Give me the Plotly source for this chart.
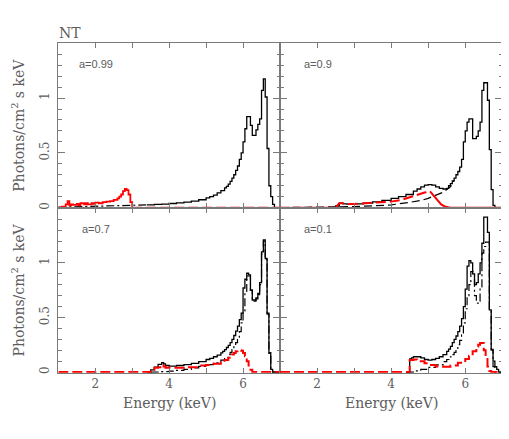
import plotly.graph_objects as go

# ---------------- data (energy in keV, flux in photons/cm^2/s/keV) ----------------
# Panel a=0.99
A_tot_E = [3.4, 3.6, 3.8, 4.0, 4.2, 4.4, 4.6, 4.8, 5.0, 5.1, 5.2, 5.3, 5.4, 5.5, 5.55, 5.6, 5.65, 5.7, 5.75,
           5.8, 5.85, 5.9, 5.95, 6.0, 6.05, 6.1, 6.15, 6.2, 6.25, 6.3, 6.35, 6.4, 6.45, 6.5, 6.55, 6.6, 6.65,
           6.7, 6.75, 6.8, 6.85, 7.0]
A_tot_F = [0.025, 0.029, 0.033, 0.038, 0.044, 0.051, 0.06, 0.072, 0.09, 0.1, 0.115, 0.135, 0.155, 0.18, 0.195,
           0.215, 0.24, 0.27, 0.3, 0.34, 0.38, 0.44, 0.5, 0.6, 0.72, 0.83, 0.83, 0.75, 0.66, 0.66, 0.71, 0.76,
           0.81, 1.07, 1.175, 1.01, 0.54, 0.2, 0.1, 0.03, 0.0, 0.0]
A_cmp_E = [1.0, 1.5, 2.0, 2.5, 3.0, 3.4]
A_cmp_F = [0.004, 0.008, 0.013, 0.018, 0.022, 0.025]
A_red_E = [1.0, 1.1, 1.2, 1.25, 1.3, 1.35, 1.4, 1.5, 1.55, 1.6, 1.7, 1.75, 1.8, 1.9, 1.95, 2.0, 2.1, 2.2, 2.3,
           2.4, 2.5, 2.6, 2.65, 2.7, 2.75, 2.8, 2.85, 2.9, 2.95, 3.0]
A_red_F = [0.0, 0.01, 0.03, 0.06, 0.02, 0.03, 0.025, 0.035, 0.02, 0.04, 0.03, 0.04, 0.03, 0.04, 0.035, 0.045,
           0.04, 0.05, 0.055, 0.06, 0.07, 0.085, 0.1, 0.12, 0.15, 0.17, 0.16, 0.12, 0.05, 0.0]
A_red0_E = [3.0, 7.0]
A_red0_F = [0.0, 0.0]

# Panel a=0.9
B_tot_E = [2.4, 2.5, 2.6, 2.7, 2.8, 3.0, 3.25, 3.5, 3.75, 4.0, 4.2, 4.4, 4.6, 4.7, 4.8, 4.9, 5.0, 5.1, 5.2,
           5.3, 5.4, 5.5, 5.55, 5.6, 5.65, 5.7, 5.75, 5.8, 5.85, 5.9, 5.95, 6.0, 6.05, 6.1, 6.15, 6.2, 6.25,
           6.3, 6.35, 6.4, 6.45, 6.5, 6.55, 6.6, 6.65, 6.7, 6.75, 6.8, 7.0]
B_tot_F = [0.0, 0.015, 0.04, 0.035, 0.033, 0.035, 0.042, 0.052, 0.066, 0.085, 0.1, 0.12, 0.15, 0.17, 0.19,
           0.205, 0.21, 0.205, 0.19, 0.175, 0.17, 0.175, 0.2, 0.22, 0.245, 0.27, 0.3, 0.33, 0.37, 0.44, 0.6,
           0.7, 0.78, 0.81, 0.81, 0.63, 0.63, 0.65, 0.7, 0.78, 1.07, 1.14, 1.14, 0.98, 0.53, 0.165, 0.02,
           0.0, 0.0]
B_cmp_E = [1.0, 2.5, 3.0, 3.5, 4.0, 4.5, 4.8, 5.0, 5.2, 5.4, 5.6, 5.7]
B_cmp_F = [0.0, 0.005, 0.01, 0.016, 0.025, 0.048, 0.065, 0.085, 0.11, 0.14, 0.19, 0.25]
B_red_E = [1.0, 2.5, 2.55, 2.6, 2.7, 2.75, 3.0, 3.5, 4.0, 4.25, 4.5, 4.7, 4.9, 5.05]
B_red_F = [0.0, 0.0, 0.02, 0.04, 0.04, 0.033, 0.034, 0.042, 0.055, 0.068, 0.095, 0.12, 0.138, 0.148]
B_redt_E = [5.05, 5.15, 5.25, 5.35, 5.45, 5.6, 7.0]
B_redt_F = [0.148, 0.11, 0.065, 0.03, 0.01, 0.0, 0.0]

# Panel a=0.7
C_tot_E = [3.4, 3.5, 3.6, 3.7, 3.8, 3.85, 3.9, 4.0, 4.2, 4.4, 4.6, 4.8, 5.0, 5.1, 5.2, 5.3, 5.4, 5.45, 5.5,
           5.55, 5.6, 5.65, 5.7, 5.75, 5.8, 5.85, 5.9, 5.95, 6.0, 6.05, 6.1, 6.15, 6.2, 6.25, 6.3, 6.35, 6.4,
           6.45, 6.5, 6.55, 6.6, 6.65, 6.7, 6.75, 6.8, 7.0]
C_tot_F = [0.0, 0.02, 0.045, 0.07, 0.085, 0.075, 0.06, 0.055, 0.06, 0.068, 0.08, 0.095, 0.115, 0.125, 0.14,
           0.155, 0.175, 0.19, 0.205, 0.225, 0.245, 0.27, 0.3, 0.335, 0.375, 0.42, 0.48, 0.54, 0.77, 0.85,
           0.905, 0.89, 0.75, 0.66, 0.66, 0.68, 0.72, 0.82, 1.1, 1.21, 1.04, 0.54, 0.177, 0.025, 0.0, 0.0]
C_cmp_E = [3.5, 3.8, 4.0, 4.2, 4.4, 4.6, 4.8, 5.0, 5.2, 5.4, 5.5, 5.6, 5.65, 5.7, 5.75, 5.8, 5.85, 5.9, 5.95,
           6.0, 6.05, 6.1, 6.15, 6.2, 6.25, 6.3, 6.35, 6.4, 6.45, 6.5, 6.55, 6.6, 6.65, 6.7, 6.75, 6.8, 7.0]
C_cmp_F = [0.0, 0.004, 0.008, 0.015, 0.025, 0.038, 0.052, 0.068, 0.085, 0.11, 0.13, 0.16, 0.18, 0.205, 0.23,
           0.27, 0.31, 0.37, 0.45, 0.56, 0.74, 0.88, 0.88, 0.75, 0.65, 0.65, 0.67, 0.71, 0.8, 1.08, 1.2, 1.03,
           0.53, 0.17, 0.02, 0.0, 0.0]
C_red_E = [1.0, 3.45, 3.5, 3.6, 3.7, 3.8, 3.85, 3.9, 4.0, 4.4, 4.8, 5.0, 5.2, 5.4, 5.5, 5.6, 5.7, 5.75, 5.8,
           5.85, 5.9, 5.95, 6.0, 6.05, 6.1, 6.15, 6.2, 6.25, 7.0]
C_red_F = [0.0, 0.0, 0.02, 0.04, 0.045, 0.065, 0.05, 0.04, 0.04, 0.045, 0.06, 0.065, 0.075, 0.09, 0.11, 0.13,
           0.16, 0.175, 0.19, 0.2, 0.2, 0.195, 0.175, 0.145, 0.1, 0.06, 0.02, 0.0, 0.0]

# Panel a=0.1
D_tot_E = [4.4, 4.5, 4.55, 4.6, 4.7, 4.8, 4.9, 5.0, 5.1, 5.2, 5.3, 5.4, 5.5, 5.55, 5.6, 5.65, 5.7, 5.75, 5.8,
           5.85, 5.9, 5.95, 6.0, 6.05, 6.1, 6.15, 6.2, 6.25, 6.3, 6.35, 6.4, 6.45, 6.5, 6.55, 6.6, 6.65, 6.7,
           6.75, 6.8, 6.85, 6.9, 7.0]
D_tot_F = [0.0, 0.12, 0.13, 0.14, 0.14, 0.13, 0.115, 0.11, 0.115, 0.125, 0.14, 0.16, 0.19, 0.21, 0.235, 0.27,
           0.3, 0.33, 0.37, 0.42, 0.49, 0.6, 0.76, 0.97, 1.02, 1.0, 0.9, 0.8, 0.82, 0.9, 1.0, 1.18, 1.42, 1.42,
           1.28, 0.57, 0.207, 0.1, 0.05, 0.025, 0.0, 0.0]
D_cmp_E = [4.4, 4.6, 4.8, 5.0, 5.2, 5.4, 5.5, 5.6, 5.65, 5.7, 5.75, 5.8, 5.85, 5.9, 5.95, 6.0, 6.05, 6.1, 6.15,
           6.2, 6.25, 6.3, 6.35, 6.4, 6.45, 6.5, 6.55, 6.6, 6.65, 6.7, 6.75, 6.8, 7.0]
D_cmp_F = [0.0, 0.01, 0.025, 0.042, 0.065, 0.095, 0.115, 0.14, 0.16, 0.18, 0.21, 0.25, 0.29, 0.34, 0.45, 0.58,
           0.7, 0.8, 0.92, 0.92, 0.7, 0.63, 0.65, 0.78, 1.09, 1.15, 1.19, 1.19, 0.57, 0.2, 0.05, 0.0, 0.0]
D_red_E = [1.0, 4.5, 4.6, 4.7, 4.8, 4.9, 5.0, 5.2, 5.4, 5.6, 5.8, 6.0, 6.1, 6.2, 6.3, 6.35, 6.4, 6.45, 6.5,
           6.55, 6.6, 6.65, 6.7, 7.0]
D_red_F = [0.0, 0.11, 0.115, 0.11, 0.1, 0.08, 0.065, 0.05, 0.048, 0.06, 0.085, 0.12, 0.15, 0.19, 0.235, 0.25,
           0.265, 0.265, 0.2, 0.14, 0.05, 0.01, 0.0, 0.0]

panel_labels = ["a=0.99", "a=0.9", "a=0.7", "a=0.1"]
x_ticks = [2, 4, 6]
x_ticktext = ["2", "4", "6"]
y_ticks = [0, 0.5, 1]
y_ticktext = ["0", "0.5", "1"]

# ---------------- styles ----------------
BLACK = "#000000"
RED = "#ff0000"
FRAME = "#7a7a7a"
TEXT = "#5c5c5c"
SERIF = "DejaVu Serif, Liberation Serif, serif"
SANS = "Liberation Sans, Arial, sans-serif"
DASHDOT = "8px,3px,2px,3px"
DASH = "8px,4px"
RDASH = "10px,4px"

fig = go.Figure()


def add(x, y, ax, color, width, dash="solid", shape="hv"):
    fig.add_trace(go.Scatter(
        x=x, y=y, mode="lines", xaxis="x" + ax, yaxis="y" + ax,
        line=dict(color=color, width=width, dash=dash, shape=shape),
        showlegend=False, hoverinfo="skip"))


# panel A (top-left)
add(A_tot_E, A_tot_F, "", BLACK, 1.3)
add(A_cmp_E, A_cmp_F, "", BLACK, 1.2, DASHDOT, "linear")
add(A_red_E, A_red_F, "", RED, 1.8)
add(A_red0_E, A_red0_F, "", RED, 2, RDASH, "linear")
# panel B (top-right)
add(B_tot_E, B_tot_F, "2", BLACK, 1.3)
add(B_cmp_E, B_cmp_F, "2", BLACK, 1.2, DASH, "linear")
add(B_red_E, B_red_F, "2", RED, 2, RDASH, "linear")
add(B_redt_E, B_redt_F, "2", RED, 2, "solid", "linear")
# panel C (bottom-left)
add(C_tot_E, C_tot_F, "3", BLACK, 1.3)
add(C_cmp_E, C_cmp_F, "3", BLACK, 1.2, DASHDOT)
add(C_red_E, C_red_F, "3", RED, 2, RDASH)
# panel D (bottom-right)
add(D_tot_E, D_tot_F, "4", BLACK, 1.3)
add(D_cmp_E, D_cmp_F, "4", BLACK, 1.2, DASHDOT)
add(D_red_E, D_red_F, "4", RED, 2, RDASH)

# page has an 8px body margin: work in window pixels, convert to figure fractions
OFF = 8
W, H = 509 - OFF, 439 - OFF


def fx(px):
    return (px - OFF) / W


def fy(py):
    return 1 - (py - OFF) / H


xl = [fx(58.3), fx(280)]
xr = [fx(280), fx(502.3)]
yt = [fy(208.3), fy(43.3)]
yb = [fy(372.7), fy(208.3)]


def xax(domain, anchor, labels):
    return dict(domain=domain, anchor=anchor, range=[1, 7], tickvals=x_ticks, ticktext=x_ticktext,
                showticklabels=labels, ticks="inside", ticklen=5, tickcolor=FRAME, tickwidth=1,
                minor=dict(dtick=1, tick0=0, ticks="inside", ticklen=5, tickcolor=FRAME),
                showline=True, linecolor=FRAME, linewidth=1, mirror="ticks", showgrid=False,
                zeroline=False, tickfont=dict(family=SERIF, size=12, color=TEXT))


def yax(domain, anchor, labels):
    return dict(domain=domain, anchor=anchor, range=[-0.006, 1.5], tickvals=y_ticks, ticktext=y_ticktext,
                showticklabels=labels, ticks="inside", ticklen=7, tickcolor=FRAME, tickwidth=1,
                minor=dict(dtick=0.1, tick0=0, ticks="inside", ticklen=3.5, tickcolor=FRAME),
                showline=True, linecolor=FRAME, linewidth=1, mirror="ticks", showgrid=False,
                zeroline=False, tickangle=-90, ticklabelstandoff=4,
                tickfont=dict(family=SERIF, size=12, color=TEXT))


fig.update_layout(
    width=W, height=H, autosize=False, margin=dict(l=0, r=0, t=0, b=0),
    paper_bgcolor="white", plot_bgcolor="white",
    xaxis=xax(xl, "y", False), yaxis=yax(yt, "x", True),
    xaxis2=xax(xr, "y2", False), yaxis2=yax(yt, "x2", False),
    xaxis3=xax(xl, "y3", True), yaxis3=yax(yb, "x3", True),
    xaxis4=xax(xr, "y4", True), yaxis4=yax(yb, "x4", False),
)

ann = []
# panel labels
for lab, (px, py) in zip(panel_labels, [(77, 64), (302, 64), (80, 229), (302, 229)]):
    ann.append(dict(text=lab, x=fx(px), y=fy(py), xref="paper", yref="paper", xanchor="left",
                    yanchor="middle", showarrow=False, font=dict(family=SANS, size=11, color=TEXT)))
# title
ann.append(dict(text="NT", x=fx(57), y=fy(33), xref="paper", yref="paper", xanchor="left",
                yanchor="middle", showarrow=False, font=dict(family=SERIF, size=14, color=TEXT)))
# y titles
for yc in [(yt[0] + yt[1]) / 2, (yb[0] + yb[1]) / 2]:
    ann.append(dict(text="Photons/cm<sup>2</sup> s keV", x=fx(18), y=yc, xref="paper", yref="paper",
                    xanchor="center", yanchor="middle", textangle=-90, showarrow=False,
                    font=dict(family=SERIF, size=14, color=TEXT)))
# x titles
for xc in [(xl[0] + xl[1]) / 2, (xr[0] + xr[1]) / 2]:
    ann.append(dict(text="Energy (keV)", x=xc, y=fy(403), xref="paper", yref="paper",
                    xanchor="center", yanchor="middle", showarrow=False,
                    font=dict(family=SERIF, size=14, color=TEXT)))
fig.update_layout(annotations=ann)

fig.write_html("out.html")
